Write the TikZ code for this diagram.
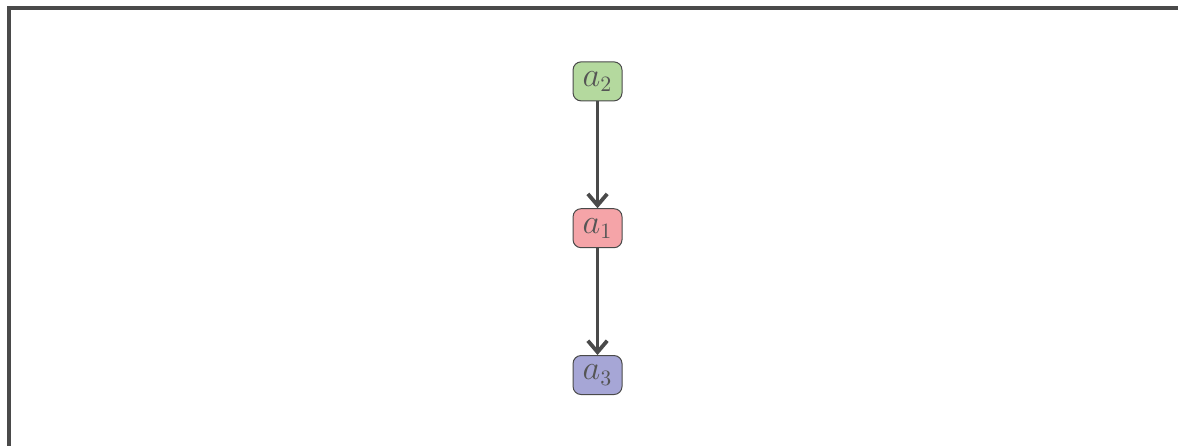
\documentclass[tikz,border=0pt]{standalone}
\usepackage{xcolor}
\usepackage{tikz}
\usetikzlibrary{arrows.meta,positioning}
\definecolor{FrameGray}{HTML}{4A4A4A}
\definecolor{TextGray}{HTML}{555555}
\definecolor{SoftGreen}{HTML}{B4D99E}
\definecolor{SoftRed}{HTML}{F5A4A8}
\definecolor{SoftBlue}{HTML}{A6A6D6}

\begin{document}
\begin{tikzpicture}[
  var/.style={draw=FrameGray,rounded corners=4pt,minimum width=0.86cm,minimum height=0.685cm,inner sep=1pt,font=\fontsize{16}{19}\selectfont,text=TextGray,line width=0.5pt},
  arr/.style={-{Straight Barb[length=2mm,width=3.4mm]},draw=FrameGray,line width=1.9pt}
]
\useasboundingbox (0,0) rectangle (20.70,-7.82);
\draw[FrameGray,line width=1.6pt] (0.158,-8.2) |- (21.0,-0.141);

\node[var,fill=SoftGreen] (a2) at (10.50,-1.43) {$a_2$};
\node[var,fill=SoftRed] (a1) at (10.50,-4.01) {$a_1$};
\node[var,fill=SoftBlue] (a3) at (10.50,-6.59) {$a_3$};

\draw[arr] (a2) -- (a1);
\draw[arr] (a1) -- (a3);
\end{tikzpicture}
\end{document}
